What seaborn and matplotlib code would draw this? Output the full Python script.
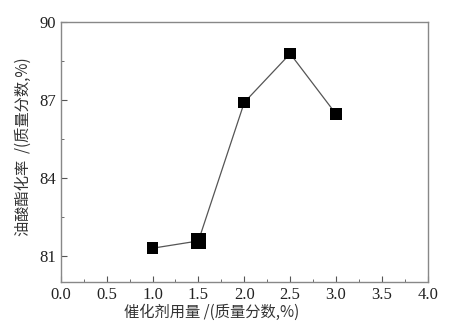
import pandas as pd
import matplotlib
matplotlib.use('Agg')
import matplotlib.pyplot as plt
import seaborn as sns
from matplotlib.ticker import MultipleLocator

# 催化剂用量 vs 油酸酯化率
dosage = [1.0, 1.5, 2.0, 2.5, 3.0]
rate = [81.3, 81.58, 86.9, 88.77, 86.45]
marker_size = [1, 2, 1, 1, 1]

df = pd.DataFrame({'dosage': dosage, 'rate': rate, 'ms': marker_size})

sns.set_style('ticks')
plt.rcParams['font.family'] = ['Liberation Serif', 'Noto Sans CJK SC', 'DejaVu Sans']
plt.rcParams['axes.unicode_minus'] = False

fig = plt.figure(figsize=(4.64, 3.28), dpi=100)
ax = fig.add_axes([0.131, 0.140, 0.791, 0.794])

sns.lineplot(x='dosage', y='rate', data=df, color='#555555', linewidth=0.9, ax=ax)
sns.scatterplot(x='dosage', y='rate', data=df, size='ms', sizes={1: 70, 2: 120},
                marker='s', color='black', edgecolor='black', linewidth=0,
                legend=False, zorder=3, ax=ax)

ax.set_xlim(0, 4)
ax.set_ylim(80, 90)
ax.xaxis.set_major_locator(MultipleLocator(0.5))
ax.xaxis.set_minor_locator(MultipleLocator(0.25))
ax.set_yticks([81, 84, 87, 90])
ax.set_yticks([82.5, 85.5, 88.5], minor=True)
ax.set_xticklabels([f'{v:.1f}' for v in ax.get_xticks()])

ax.tick_params(which='both', direction='in', top=False, right=False,
               labelsize=12, color='#555555', labelcolor='#222222')
ax.tick_params(which='major', length=4)
ax.tick_params(which='minor', length=2.5)
for s in ax.spines.values():
    s.set_color('#888888')
    s.set_linewidth(1.0)

ax.set_xlabel('催化剂用量 /(质量分数,%)', fontsize=11, color='#333333',
              family=['Noto Sans CJK SC', 'DejaVu Sans'])
ax.set_ylabel('油酸酯化率  /(质量分数,%)', fontsize=11, color='#333333',
              family=['Noto Sans CJK SC', 'DejaVu Sans'])
ax.xaxis.set_label_coords(0.41, -0.085)
ax.yaxis.set_label_coords(-0.08, 0.52)

fig.savefig('out.png', dpi=100)
